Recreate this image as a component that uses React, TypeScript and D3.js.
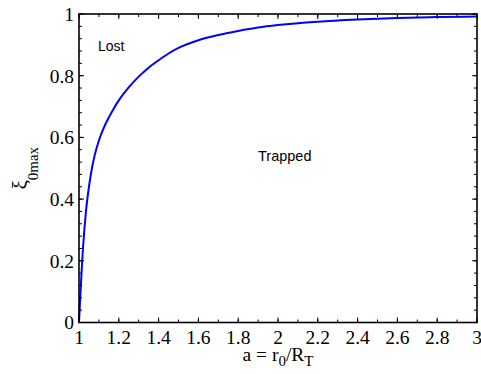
import * as d3 from "d3";

const aValues = [1, 1.02, 1.035, 1.05, 1.065, 1.08, 1.1, 1.125, 1.15, 1.175, 1.2, 1.25, 1.3, 1.35, 1.4, 1.45, 1.5, 1.6, 1.7, 1.8, 1.9, 2.0, 2.2, 2.4, 2.6, 2.8, 3.0];
const xiValues = [0, 0.24, 0.36, 0.44, 0.5, 0.545, 0.59, 0.632, 0.665, 0.694, 0.72, 0.762, 0.797, 0.826, 0.85, 0.872, 0.89, 0.915, 0.932, 0.945, 0.956, 0.964, 0.975, 0.982, 0.987, 0.99, 0.992];

const xTicks = [1, 1.2, 1.4, 1.6, 1.8, 2, 2.2, 2.4, 2.6, 2.8, 3];
const yTicks = [0, 0.2, 0.4, 0.6, 0.8, 1];

const W = 481;
const H = 374;
const m = { left: 79, right: 4, top: 14, bottom: 51.5 };

const serif = "Liberation Serif, Times New Roman, Times, serif";
const sans = "Liberation Sans, Arial, Helvetica, sans-serif";

export default function App() {
  const x = d3.scaleLinear().domain([1, 3]).range([m.left, W - m.right]);
  const y = d3.scaleLinear().domain([0, 1]).range([H - m.bottom, m.top]);

  const pts = aValues.map((a, i) => [a, xiValues[i]] as [number, number]);
  const line = d3.line<[number, number]>()
    .x(d => x(d[0]))
    .y(d => y(d[1]))
    .curve(d3.curveMonotoneX);

  const xMinor = d3.range(0, 21).map(i => 1 + i * 0.1);
  const yMinor = d3.range(0, 26).map(i => i * 0.04);

  const x0 = x(1), x1 = x(3), y0 = y(0), y1 = y(1);
  const fmt = d3.format("~g");

  return (
    <svg width={W} height={H} style={{ position: "absolute", left: 0, top: 0, background: "white" }}>
      <path d={line(pts) ?? ""} fill="none" stroke="#0000ff" strokeWidth={2} />

      <g stroke="black" strokeWidth={1}>
        {xMinor.map((v, i) => (
          <g key={"xm" + i}>
            <line x1={x(v)} x2={x(v)} y1={y0} y2={y0 - 3} />
            <line x1={x(v)} x2={x(v)} y1={y1} y2={y1 + 3} />
          </g>
        ))}
        {xTicks.map((v, i) => (
          <g key={"xt" + i}>
            <line x1={x(v)} x2={x(v)} y1={y0} y2={y0 - 5} />
            <line x1={x(v)} x2={x(v)} y1={y1} y2={y1 + 5} />
          </g>
        ))}
        {yMinor.map((v, i) => (
          <g key={"ym" + i}>
            <line x1={x0} x2={x0 + 3} y1={y(v)} y2={y(v)} />
            <line x1={x1} x2={x1 - 3} y1={y(v)} y2={y(v)} />
          </g>
        ))}
        {yTicks.map((v, i) => (
          <g key={"yt" + i}>
            <line x1={x0} x2={x0 + 5} y1={y(v)} y2={y(v)} />
            <line x1={x1} x2={x1 - 5} y1={y(v)} y2={y(v)} />
          </g>
        ))}
      </g>
      <rect x={x0} y={y1} width={x1 - x0} height={y0 - y1} fill="none" stroke="black" strokeWidth={1.6} />

      {xTicks.map((v, i) => (
        <text key={"xl" + i} x={x(v)} y={344} textAnchor="middle" style={{ fontFamily: serif, fontSize: 19.5 }}>{fmt(v)}</text>
      ))}
      {yTicks.map((v, i) => (
        <text key={"yl" + i} x={74} y={y(v)} dy="0.35em" textAnchor="end" style={{ fontFamily: serif, fontSize: 19.5 }}>{fmt(v)}</text>
      ))}

      <text x={(x0 + x1) / 2} y={361} textAnchor="middle" style={{ fontFamily: serif, fontSize: 19.5 }}>
        a = r<tspan style={{ fontSize: 15 }} dy={5}>0</tspan><tspan dy={-5}>/R</tspan><tspan style={{ fontSize: 15 }} dy={5}>T</tspan>
      </text>

      <text transform={`translate(27,${(y0 + y1) / 2}) rotate(-90)`} textAnchor="middle" style={{ fontFamily: serif, fontSize: 21 }}>
        ξ<tspan style={{ fontSize: 15 }} dy={11}>0max</tspan>
      </text>

      <text x={98} y={51} style={{ fontFamily: sans, fontSize: 14 }}>Lost</text>
      <text x={258} y={161} style={{ fontFamily: sans, fontSize: 14.5 }}>Trapped</text>
    </svg>
  );
}
